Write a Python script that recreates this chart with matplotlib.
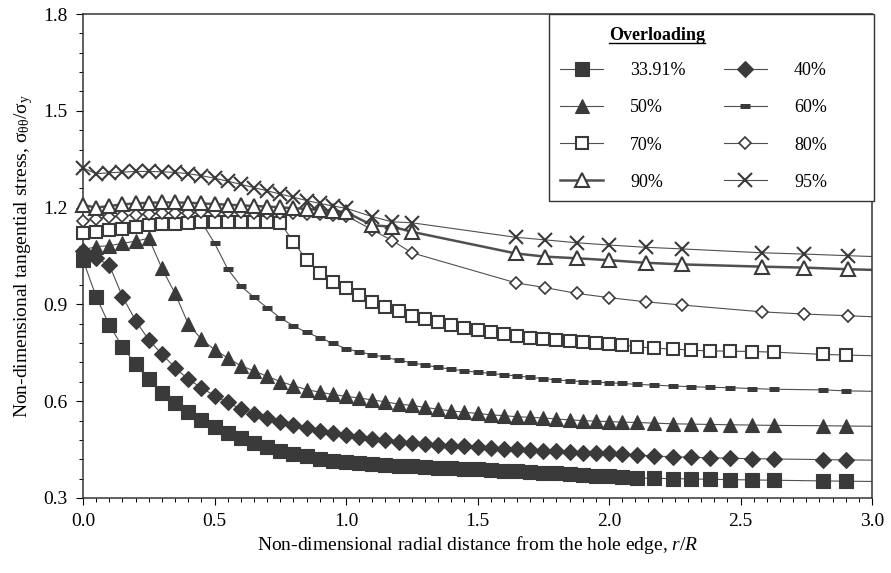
import numpy as np
import matplotlib.pyplot as plt
from matplotlib.lines import Line2D
from matplotlib.patches import Rectangle
from matplotlib.ticker import MultipleLocator

plt.rcParams['font.family'] = ['Liberation Serif', 'DejaVu Serif']
plt.rcParams['mathtext.fontset'] = 'custom'
plt.rcParams['mathtext.rm'] = 'Liberation Serif'
plt.rcParams['mathtext.it'] = 'Liberation Serif:italic'
plt.rcParams['mathtext.default'] = 'regular'

# node positions (r/R); last point lies past the axis edge and carries no marker
x_fine = [0.0, 0.05, 0.1, 0.15, 0.2, 0.25, 0.3, 0.35, 0.4, 0.45,
          0.5, 0.55, 0.6, 0.65, 0.7, 0.75, 0.8, 0.85, 0.9, 0.95,
          1.0, 1.05, 1.1, 1.15, 1.2, 1.25, 1.3, 1.35, 1.4, 1.45,
          1.5, 1.55, 1.6, 1.65, 1.7, 1.75, 1.8, 1.85, 1.9, 1.95,
          2.0, 2.05, 2.107, 2.171, 2.242, 2.313, 2.383, 2.461, 2.544, 2.628,
          2.814, 2.903, 3.05]
x_coarse = [0.0, 0.05, 0.1, 0.15, 0.2, 0.25, 0.3, 0.35, 0.4, 0.45,
            0.5, 0.55, 0.6, 0.65, 0.7, 0.75, 0.8, 0.85, 0.9, 0.95,
            1.0, 1.1, 1.175, 1.25, 1.645, 1.757, 1.878, 2.0, 2.14, 2.278,
            2.58, 2.743, 2.907, 3.05]

y_3391 = [1.038, 0.924, 0.836, 0.769, 0.714, 0.668, 0.626, 0.594, 0.566, 0.542,
          0.520, 0.501, 0.485, 0.471, 0.458, 0.447, 0.437, 0.429, 0.422, 0.416,
          0.412, 0.409, 0.406, 0.403, 0.400, 0.398, 0.396, 0.394, 0.392, 0.391,
          0.389, 0.387, 0.385, 0.383, 0.381, 0.379, 0.376, 0.374, 0.372, 0.369,
          0.367, 0.365, 0.362, 0.361, 0.360, 0.359, 0.358, 0.357, 0.356, 0.355,
          0.353, 0.352, 0.351]
y_40 = [1.064, 1.043, 1.022, 0.924, 0.850, 0.790, 0.746, 0.704, 0.668, 0.642,
        0.617, 0.596, 0.576, 0.560, 0.548, 0.537, 0.527, 0.517, 0.509, 0.502,
        0.495, 0.489, 0.484, 0.479, 0.475, 0.471, 0.468, 0.465, 0.462, 0.460,
        0.458, 0.455, 0.453, 0.451, 0.449, 0.447, 0.445, 0.443, 0.441, 0.440,
        0.438, 0.436, 0.433, 0.430, 0.428, 0.426, 0.425, 0.423, 0.422, 0.421,
        0.419, 0.418, 0.417]
y_50 = [1.069, 1.079, 1.082, 1.089, 1.096, 1.105, 1.012, 0.934, 0.840, 0.792,
        0.760, 0.734, 0.710, 0.694, 0.677, 0.661, 0.648, 0.636, 0.628, 0.621,
        0.615, 0.610, 0.604, 0.598, 0.591, 0.587, 0.581, 0.575, 0.570, 0.566,
        0.562, 0.558, 0.555, 0.552, 0.550, 0.548, 0.545, 0.542, 0.540, 0.538,
        0.537, 0.535, 0.534, 0.532, 0.530, 0.529, 0.528, 0.527, 0.526, 0.525,
        0.524, 0.523, 0.522]
y_60 = [1.110, 1.120, 1.130, 1.135, 1.140, 1.145, 1.150, 1.153, 1.155, 1.156,
        1.090, 1.010, 0.957, 0.922, 0.890, 0.858, 0.834, 0.813, 0.797, 0.779,
        0.763, 0.753, 0.744, 0.736, 0.727, 0.719, 0.712, 0.705, 0.699, 0.694,
        0.690, 0.686, 0.682, 0.678, 0.674, 0.670, 0.666, 0.663, 0.661, 0.659,
        0.657, 0.655, 0.652, 0.650, 0.647, 0.645, 0.643, 0.642, 0.639, 0.637,
        0.635, 0.632, 0.630]
y_70 = [1.120, 1.125, 1.130, 1.135, 1.140, 1.145, 1.148, 1.150, 1.152, 1.154,
        1.155, 1.156, 1.156, 1.156, 1.155, 1.153, 1.094, 1.038, 0.996, 0.968,
        0.950, 0.929, 0.908, 0.893, 0.878, 0.865, 0.855, 0.845, 0.837, 0.828,
        0.821, 0.814, 0.808, 0.802, 0.797, 0.793, 0.790, 0.787, 0.783, 0.779,
        0.776, 0.774, 0.769, 0.764, 0.762, 0.758, 0.756, 0.755, 0.754, 0.752,
        0.745, 0.743, 0.740]
y_80 = [1.160, 1.166, 1.171, 1.175, 1.178, 1.180, 1.182, 1.183, 1.184, 1.185,
        1.185, 1.185, 1.185, 1.184, 1.184, 1.183, 1.182, 1.181, 1.180, 1.178,
        1.175, 1.131, 1.098, 1.060, 0.967, 0.952, 0.934, 0.921, 0.908, 0.898,
        0.877, 0.870, 0.865, 0.860]
y_90 = [1.208, 1.200, 1.205, 1.210, 1.213, 1.215, 1.216, 1.216, 1.215, 1.213,
        1.211, 1.209, 1.207, 1.205, 1.203, 1.201, 1.198, 1.196, 1.193, 1.190,
        1.186, 1.145, 1.141, 1.125, 1.058, 1.048, 1.043, 1.037, 1.029, 1.024,
        1.017, 1.014, 1.009, 1.006]
y_95 = [1.323, 1.305, 1.308, 1.310, 1.312, 1.312, 1.311, 1.309, 1.305, 1.299,
        1.291, 1.282, 1.272, 1.262, 1.252, 1.242, 1.232, 1.222, 1.213, 1.205,
        1.198, 1.172, 1.156, 1.153, 1.108, 1.100, 1.091, 1.084, 1.077, 1.072,
        1.060, 1.056, 1.051, 1.047]

labels = ['33.91%', '40%', '50%', '60%', '70%', '80%', '90%', '95%']

dark = '#3a3a3a'
line_c = '#505050'

# marker style per curve
styles = {
    '33.91%': dict(marker='s', ms=10, mfc=dark, mec=dark, mew=0.8),
    '40%': dict(marker='D', ms=8, mfc=dark, mec=dark, mew=0.8),
    '50%': dict(marker='^', ms=10.5, mfc=dark, mec=dark, mew=0.8),
    '60%': dict(marker='_', ms=7, mfc=dark, mec=dark, mew=3.6),
    '70%': dict(marker='s', ms=9, mfc='white', mec=dark, mew=1.5),
    '80%': dict(marker='D', ms=6.5, mfc='white', mec=dark, mew=1.2),
    '90%': dict(marker='^', ms=9.5, mfc='white', mec=dark, mew=1.5),
    '95%': dict(marker='x', ms=10.5, mfc=dark, mec=dark, mew=1.5),
}
widths = {'90%': 1.8}

series = {
    '33.91%': (x_fine, y_3391),
    '40%': (x_fine, y_40),
    '50%': (x_fine, y_50),
    '60%': (x_fine, y_60),
    '70%': (x_fine, y_70),
    '80%': (x_coarse, y_80),
    '90%': (x_coarse, y_90),
    '95%': (x_coarse, y_95),
}

fig = plt.figure(figsize=(8.91, 5.73), dpi=100)
ax = fig.add_axes([83 / 891, 1 - 498 / 573, (872 - 83) / 891, (498 - 14) / 573])

handles = {}
for lab in labels:
    x, y = series[lab]
    lw = widths.get(lab, 0.8)
    ax.plot(x, y, color=line_c, lw=lw, zorder=2)
    ax.plot(x[:-1], y[:-1], ls='none', clip_on=False, zorder=3, **styles[lab])
    handles[lab] = Line2D([], [], color=line_c, lw=lw, **styles[lab])

ax.set_xlim(0, 3)
ax.set_ylim(0.3, 1.8)
ax.xaxis.set_major_locator(MultipleLocator(0.5))
ax.xaxis.set_minor_locator(MultipleLocator(0.05))
ax.yaxis.set_major_locator(MultipleLocator(0.3))
ax.yaxis.set_minor_locator(MultipleLocator(0.06))
ax.xaxis.set_major_formatter('{x:.1f}')
ax.yaxis.set_major_formatter('{x:.1f}')
ax.tick_params(which='major', direction='out', length=5, width=0.8,
               labelsize=14, pad=6)
ax.tick_params(which='minor', direction='out', length=3, width=0.7)
for sp in ax.spines.values():
    sp.set_linewidth(1.1)
    sp.set_color('#333333')

ax.set_xlabel('Non-dimensional radial distance from the hole edge, $\\mathit{r/R}$',
              fontsize=14, labelpad=3)
ax.set_ylabel('Non-dimensional tangential stress, σ$_{θθ}$/σ$_{y}$',
              fontsize=14, labelpad=6)

# legend box drawn separately so it can be wider than its contents
box_x0 = (549 - 83) / 789
box_y0 = (498 - 201) / 484
ax.add_patch(Rectangle((box_x0, box_y0), (874 - 549) / 789, 1 - box_y0,
                       transform=ax.transAxes, facecolor='white',
                       edgecolor='#333333', lw=1.0, clip_on=False, zorder=4))

order = ['33.91%', '50%', '70%', '90%', '40%', '60%', '80%', '95%']
leg = ax.legend([handles[k] for k in order], order, ncol=2, loc='upper left',
                bbox_to_anchor=(box_x0, 1.0), borderaxespad=0, frameon=False,
                fontsize=13, title=' ', title_fontsize=13, handlelength=2.4,
                handletextpad=1.5, columnspacing=2.1, labelspacing=1.12,
                borderpad=0.6)
leg.set_zorder(5)

title = fig.text(657 / 891, 1 - 35 / 573, 'Overloading', ha='center', va='center',
                 fontsize=13, fontweight='bold', zorder=6)
fig.canvas.draw()
bb = title.get_window_extent()
W, H = fig.bbox.width, fig.bbox.height
fig.add_artist(Line2D([bb.x0 / W, bb.x1 / W], [(bb.y0 + 1) / H, (bb.y0 + 1) / H],
                      transform=fig.transFigure, color='black', lw=1.0, zorder=6))

fig.savefig('out.png', dpi=100)
